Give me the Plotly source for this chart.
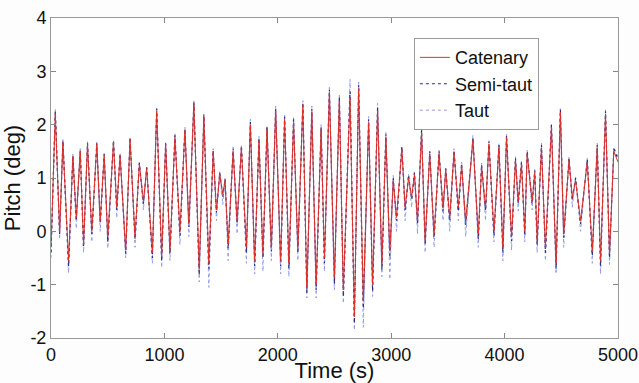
import plotly.graph_objects as go

time_s = [0, 38, 76, 105, 155, 193, 223, 258, 287, 322, 360, 404, 434, 469, 501, 551, 580, 609, 659, 697,
          741, 779, 815, 844, 894, 932, 976, 1011, 1049, 1093, 1137, 1181, 1216, 1260, 1307, 1348, 1392, 1430,
          1459, 1488, 1515, 1535, 1562, 1606, 1641, 1679, 1723, 1758, 1796, 1834, 1869, 1905, 1943, 1981,
          2025, 2060, 2098, 2139, 2177, 2221, 2256, 2300, 2338, 2382, 2411, 2455, 2499, 2543, 2578, 2637,
          2675, 2713, 2754, 2801, 2836, 2880, 2918, 2953, 2988, 3018, 3047, 3094, 3123, 3153, 3180, 3205,
          3232, 3268, 3299, 3340, 3378, 3422, 3457, 3481, 3516, 3554, 3592, 3621, 3657, 3721, 3768, 3797,
          3832, 3862, 3906, 3950, 3985, 4017, 4061, 4096, 4120, 4149, 4178, 4199, 4243, 4266, 4287, 4325,
          4360, 4413, 4454, 4492, 4521, 4568, 4597, 4626, 4670, 4729, 4773, 4817, 4846, 4890, 4925, 4963, 5000]

catenary = [-0.3, 2.2, 0.0, 1.67, -0.55, 1.4, 0.26, 1.5, -0.25, 1.63, 0.0, 1.63, 0.2, 1.42, -0.1, 1.67, 0.45, 1.42, -0.35, 1.73,
            -0.1, 1.26, 0.57, 1.17, -0.4, 2.26, -0.45, 1.63, -0.35, 1.76, 0.0, 1.9, 0.14, 2.38, -0.7, 2.14, -0.6, 1.5,
            0.4, 1.07, 0.7, 0.95, -0.24, 1.5, 0.2, 1.57, -0.3, 2.0, -0.55, 1.7, -0.42, 1.92, -0.3, 2.26,
            -0.55, 2.1, -0.6, 2.04, -0.3, 2.36, -1.05, 2.23, -1.0, 1.9, -0.5, 2.6, -0.86, 2.45, -1.1, 2.5,
            -1.6, 2.67, -1.3, 2.04, -1.0, 2.26, -0.6, 1.76, -0.36, 0.95, 0.26, 1.54, 0.45, 1.0, 0.64, 1.07,
            0.2, 1.85, -0.17, 1.45, -0.05, 1.45, 0.45, 1.14, 0.26, 1.48, 0.45, 1.23, 0.2, 1.7, -0.05, 1.2,
            0.45, 1.64, 0.0, 1.57, -0.3, 1.76, -0.1, 1.33, 0.57, 1.26, 0.0, 1.45, 0.57, 1.1, -0.17, 1.57,
            -0.3, 1.95, -0.6, 2.23, -0.05, 1.33, 0.64, 0.95, 0.2, 1.3, -0.36, 1.57, -0.55, 2.2, -0.42, 1.5, 1.3]

semi_taut = [-0.4, 2.25, -0.05, 1.7, -0.65, 1.42, 0.2, 1.52, -0.3, 1.65, -0.05, 1.65, 0.15, 1.45, -0.2, 1.7, 0.4, 1.45, -0.42, 1.75,
             -0.15, 1.28, 0.52, 1.2, -0.5, 2.3, -0.55, 1.65, -0.42, 1.8, -0.08, 1.92, 0.08, 2.42, -0.82, 2.18, -0.7, 1.52,
             0.35, 1.1, 0.65, 0.98, -0.32, 1.55, 0.14, 1.6, -0.4, 2.05, -0.65, 1.75, -0.5, 1.95, -0.38, 2.3,
             -0.65, 2.15, -0.7, 2.1, -0.4, 2.42, -1.15, 2.3, -1.1, 1.95, -0.6, 2.66, -0.98, 2.52, -1.22, 2.62,
             -1.72, 2.75, -1.45, 2.1, -1.12, 2.32, -0.72, 1.82, -0.5, 1.0, 0.2, 1.58, 0.4, 1.05, 0.6, 1.1,
             0.14, 1.9, -0.25, 1.5, -0.12, 1.5, 0.38, 1.18, 0.2, 1.52, 0.38, 1.27, 0.12, 1.75, -0.15, 1.25,
             0.38, 1.68, -0.08, 1.62, -0.4, 1.8, -0.18, 1.37, 0.52, 1.3, -0.08, 1.5, 0.52, 1.14, -0.25, 1.62,
             -0.4, 2.0, -0.7, 2.28, -0.12, 1.37, 0.58, 1.0, 0.14, 1.35, -0.45, 1.62, -0.65, 2.25, -0.5, 1.55, 1.35]

taut = [-0.5, 2.3, -0.15, 1.72, -0.78, 1.45, 0.05, 1.55, -0.4, 1.68, -0.2, 1.68, 0.0, 1.48, -0.32, 1.72, 0.25, 1.48, -0.5, 1.78,
        -0.3, 1.3, 0.4, 1.22, -0.6, 2.32, -0.68, 1.68, -0.55, 1.85, -0.25, 1.95, -0.1, 2.45, -0.95, 2.2, -1.05, 1.55,
        0.2, 1.12, 0.5, 1.0, -0.55, 1.58, -0.05, 1.62, -0.6, 2.1, -0.8, 1.78, -0.75, 1.98, -0.55, 2.35,
        -0.8, 2.2, -0.85, 2.15, -0.55, 2.45, -1.25, 2.35, -1.25, 2.0, -0.75, 2.7, -1.1, 2.58, -1.35, 2.85,
        -1.85, 2.8, -1.8, 2.15, -1.22, 2.4, -0.85, 1.85, -0.9, 1.05, 0.0, 1.6, 0.2, 1.08, 0.45, 1.12,
        -0.05, 1.95, -0.4, 1.52, -0.3, 1.52, 0.2, 1.2, 0.0, 1.55, 0.2, 1.3, -0.1, 1.8, -0.3, 1.28,
        0.2, 1.7, -0.2, 1.65, -0.55, 1.82, -0.35, 1.4, 0.38, 1.32, -0.2, 1.52, 0.4, 1.16, -0.4, 1.65,
        -0.55, 2.02, -0.8, 2.3, -0.3, 1.4, 0.45, 1.02, 0.0, 1.38, -0.6, 1.65, -0.8, 2.28, -0.62, 1.58, 1.4]

series_names = ["Catenary", "Semi-taut", "Taut"]

x_ticks = [0, 1000, 2000, 3000, 4000, 5000]
x_tick_text = ["0", "1000", "2000", "3000", "4000", "5000"]
y_ticks = [-2, -1, 0, 1, 2, 3, 4]
y_tick_text = ["-2", "-1", "0", "1", "2", "3", "4"]

fig = go.Figure()
fig.add_trace(go.Scatter(x=time_s, y=taut, mode="lines", name=series_names[2], legendrank=3,
                         line=dict(color="#8f9be8", width=1, dash="dot")))
fig.add_trace(go.Scatter(x=time_s, y=semi_taut, mode="lines", name=series_names[1], legendrank=2,
                         line=dict(color="#2a2f7a", width=1.2, dash="dot")))
fig.add_trace(go.Scatter(x=time_s, y=catenary, mode="lines", name=series_names[0], legendrank=1,
                         line=dict(color="#e0302a", width=1)))

font_family = "Liberation Sans, Arial, sans-serif"
fig.update_layout(
    width=639, height=383,
    margin=dict(l=51, r=21, t=18, b=45),
    paper_bgcolor="#fdfdfd", plot_bgcolor="#ffffff",
    font=dict(family=font_family, size=18, color="#111111"),
    showlegend=True,
    legend=dict(x=0.64, y=0.937, xanchor="left", yanchor="top",
                bgcolor="#ffffff", bordercolor="#9a9a9a", borderwidth=1,
                font=dict(size=18), tracegroupgap=0, itemwidth=30),
    xaxis=dict(range=[0, 5000], tickvals=x_ticks, ticktext=x_tick_text, ticks="inside", ticklen=5,
               tickcolor="#888888", ticklabelstandoff=0, automargin=False,
               showline=True, linecolor="#999999", linewidth=1, mirror="ticks", showgrid=False,
               zeroline=False, title=dict(text="Time (s)", standoff=0), tickfont=dict(size=18)),
    yaxis=dict(range=[-2, 4], tickvals=y_ticks, ticktext=y_tick_text, ticks="inside", ticklen=5,
               tickcolor="#888888", automargin=False,
               showline=True, linecolor="#999999", linewidth=1, mirror="ticks", showgrid=False,
               zeroline=False, title=dict(text="Pitch (deg)", standoff=4), tickfont=dict(size=18)),
)

fig.write_html("out.html")
